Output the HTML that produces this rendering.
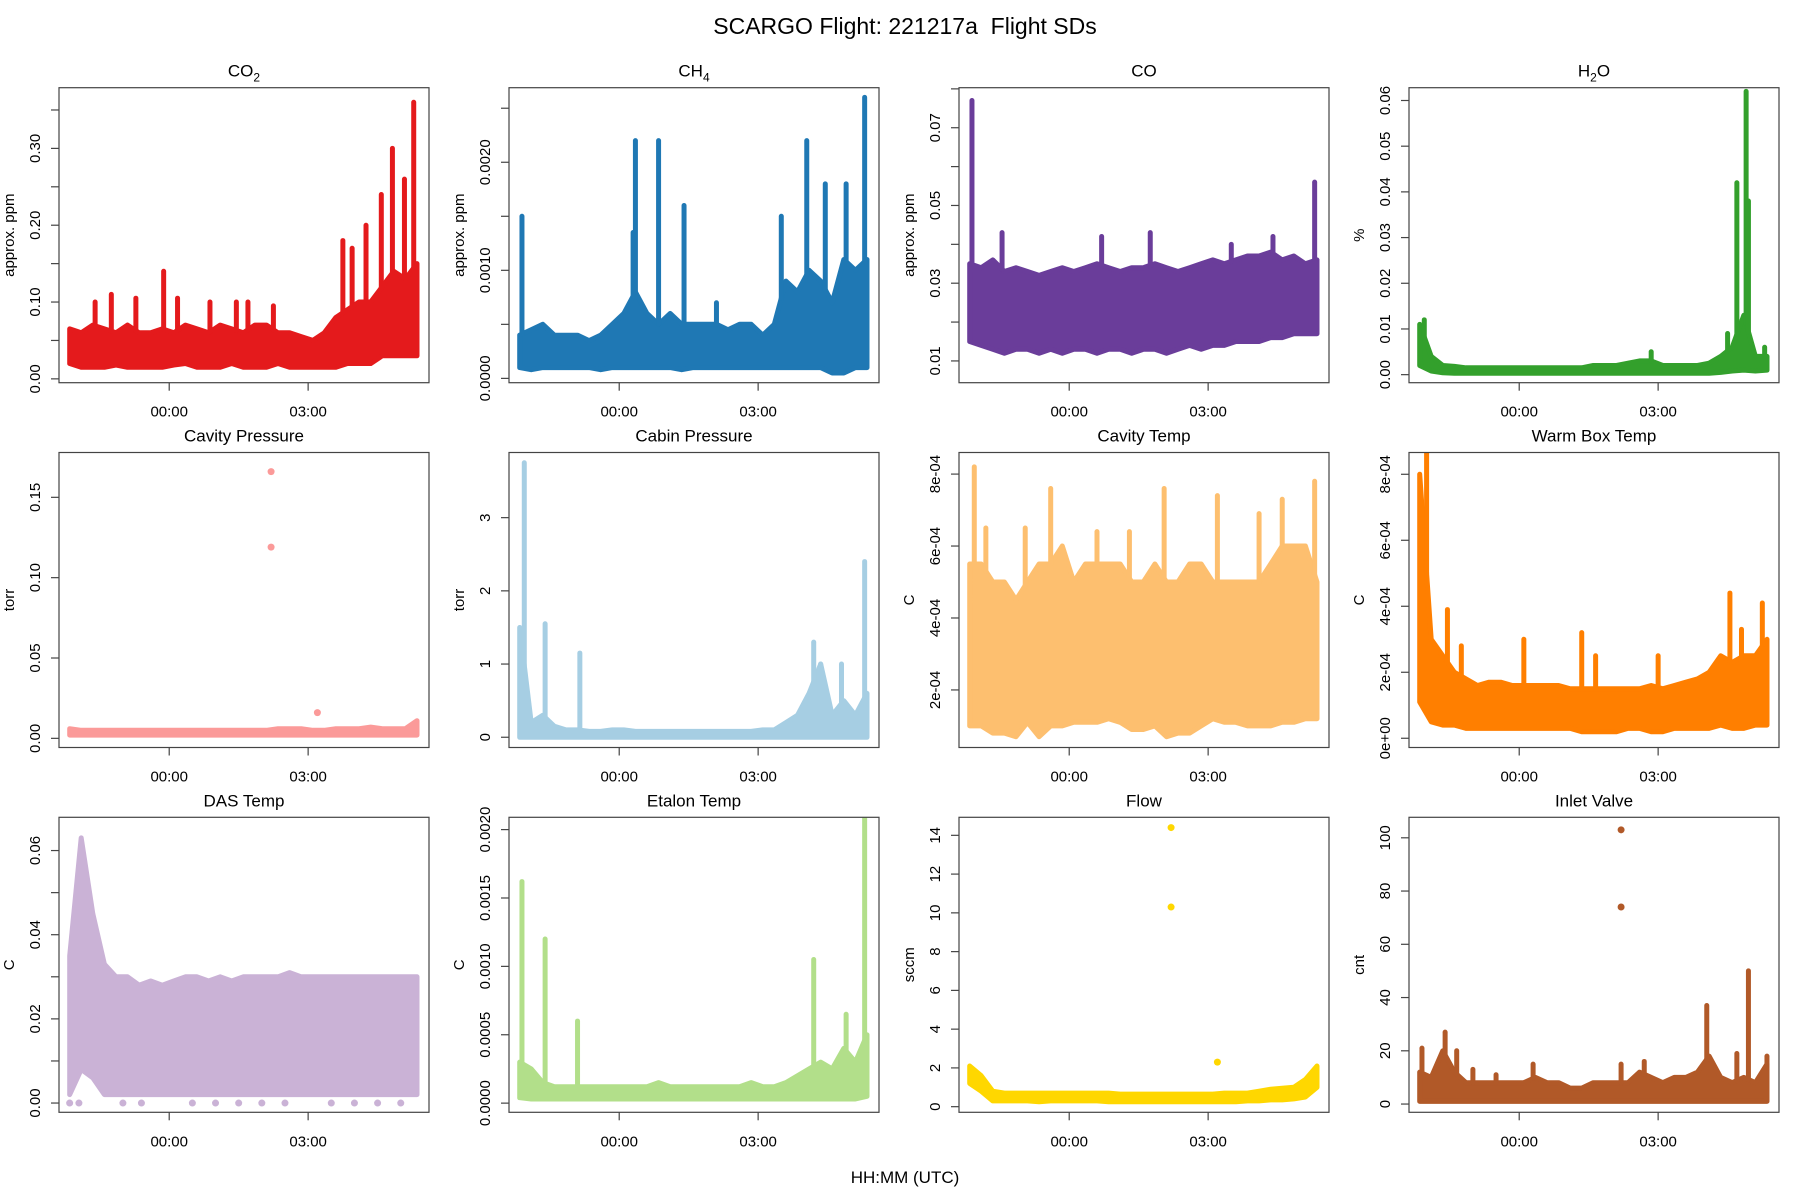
<!DOCTYPE html>
<html><head><meta charset="utf-8"><style>
html,body{margin:0;padding:0;background:#fff;}
svg{display:block;font-family:"Liberation Sans",sans-serif;}
</style></head><body>
<svg id="chart" width="1800" height="1200" viewBox="0 0 1800 1200" xmlns="http://www.w3.org/2000/svg">
<text x="905" y="34" text-anchor="middle" font-size="23">SCARGO Flight: 221217a&#160; Flight SDs</text>
<text x="905" y="1183" text-anchor="middle" font-size="17">HH:MM (UTC)</text>
</svg>
<script>
// shared time grid (hours from 00:00 UTC)
const timeGrid = [-2.15,-1.9,-1.65,-1.4,-1.15,-0.9,-0.65,-0.4,-0.15,0.1,0.35,0.6,0.85,1.1,1.35,1.6,1.85,2.1,2.35,2.6,2.85,3.1,3.35,3.6,3.85,4.1,4.35,4.6,4.85,5.1,5.35];
const xTickLabels = ["00:00","03:00"];
const xTickValues = [0,3];

// per-panel data arrays
const co2Hi = [.065,.06,.07,.065,.06,.07,.06,.06,.065,.06,.07,.065,.06,.07,.065,.06,.07,.07,.06,.06,.055,.05,.06,.08,.09,.10,.10,.12,.14,.13,.15];
const co2Lo = [.02,.015,.015,.015,.018,.015,.015,.015,.015,.018,.02,.015,.015,.015,.02,.015,.015,.015,.02,.015,.015,.015,.015,.015,.02,.02,.02,.03,.03,.03,.03];
const co2Spikes = [[-1.6,.1],[-1.25,.11],[-0.72,.105],[-0.12,.14],[0.18,.105],[0.88,.10],[1.45,.10],[1.7,.10],[2.25,.095],[3.75,.18],[3.95,.17],[4.25,.20],[4.58,.24],[4.82,.30],[5.08,.26],[5.28,.36]];
const ch4Hi = [.0004,.00045,.0005,.0004,.0004,.0004,.00035,.0004,.0005,.0006,.0008,.0006,.0005,.0006,.0005,.0005,.0005,.0005,.00045,.0005,.0005,.0004,.0005,.0009,.0008,.001,.0009,.0007,.0011,.001,.0011];
const ch4Lo = [.0001,.00008,.0001,.0001,.0001,.0001,.0001,.00008,.0001,.0001,.0001,.0001,.0001,.0001,.00008,.0001,.0001,.0001,.0001,.0001,.0001,.0001,.0001,.0001,.0001,.0001,.0001,.00005,.00005,.0001,.0001];
const ch4Spikes = [[-2.1,.0015],[0.3,.00135],[0.35,.0022],[0.85,.0022],[1.4,.0016],[2.1,.0007],[3.5,.0015],[4.05,.0022],[4.45,.0018],[4.9,.0018],[5.3,.0026]];
const coHi = [.035,.034,.036,.033,.034,.033,.032,.033,.034,.033,.034,.035,.034,.033,.034,.034,.035,.034,.033,.034,.035,.036,.035,.036,.037,.037,.038,.036,.037,.035,.036];
const coLo = [.015,.014,.013,.012,.013,.013,.012,.013,.012,.013,.013,.012,.013,.013,.012,.013,.013,.012,.013,.014,.013,.014,.014,.015,.015,.015,.016,.016,.017,.017,.017];
const coSpikes = [[-2.1,.077],[-1.45,.043],[0.7,.042],[1.75,.043],[3.5,.04],[4.4,.042],[5.3,.056]];
const h2oHi = [.011,.004,.002,.0018,.0015,.0015,.0015,.0015,.0015,.0015,.0015,.0015,.0015,.0015,.0015,.002,.002,.002,.0025,.003,.003,.002,.002,.002,.002,.0025,.004,.006,.013,.004,.004];
const h2oLo = [.002,.0008,.0004,.0003,.0003,.0003,.0003,.0003,.0003,.0003,.0003,.0003,.0003,.0003,.0003,.0003,.0003,.0003,.0003,.0003,.0003,.0003,.0003,.0003,.0003,.0003,.0005,.0008,.001,.0008,.001];
const h2oSpikes = [[-2.05,.012],[2.85,.005],[4.5,.009],[4.7,.042],[4.9,.062],[4.95,.038],[5.3,.006]];
const cavpHi = [.006,.005,.005,.005,.005,.005,.005,.005,.005,.005,.005,.005,.005,.005,.005,.005,.005,.005,.006,.006,.006,.005,.005,.006,.006,.006,.007,.006,.006,.006,.011];
const cavpLo = [.002,.002,.002,.002,.002,.002,.002,.002,.002,.002,.002,.002,.002,.002,.002,.002,.002,.002,.002,.002,.002,.002,.002,.002,.002,.002,.002,.002,.002,.002,.002];
const cavpOutliers = [[2.2,.166],[2.2,.119],[3.2,.016]];
const cabHi = [1.5,.2,.3,.15,.1,.1,.08,.08,.1,.1,.08,.08,.08,.08,.08,.08,.08,.08,.08,.08,.08,.1,.1,.2,.3,.6,1.0,.3,.5,.3,.6];
const cabLo = [0,0,0,0,0,0,0,0,0,0,0,0,0,0,0,0,0,0,0,0,0,0,0,0,0,0,0,0,0,0,0];
const cabSpikes = [[-2.05,3.75],[-1.6,1.55],[-0.85,1.15],[4.2,1.3],[4.35,.8],[4.8,1.0],[5.3,2.4]];
const cavtHi = [5.5e-4,5.5e-4,5e-4,5e-4,4.5e-4,5e-4,5.5e-4,5.5e-4,6e-4,5e-4,5.5e-4,5.5e-4,5.5e-4,5.5e-4,5e-4,5e-4,5.5e-4,5e-4,5e-4,5.5e-4,5.5e-4,5e-4,5e-4,5e-4,5e-4,5e-4,5.5e-4,6e-4,6e-4,6e-4,5e-4];
const cavtLo = [1e-4,1e-4,.8e-4,.8e-4,.7e-4,1.1e-4,.7e-4,1e-4,1e-4,1.1e-4,1.1e-4,1.1e-4,1.2e-4,1.1e-4,.9e-4,.9e-4,1e-4,.7e-4,.8e-4,.8e-4,1e-4,1.2e-4,1.1e-4,1.1e-4,1e-4,1e-4,1e-4,1.1e-4,1.1e-4,1.2e-4,1.2e-4];
const cavtSpikes = [[-2.05,8.2e-4],[-1.8,6.5e-4],[-0.95,6.5e-4],[-0.4,7.6e-4],[0.6,6.4e-4],[1.3,6.4e-4],[2.05,7.6e-4],[3.2,7.4e-4],[4.1,6.9e-4],[4.6,7.3e-4],[5.3,7.8e-4]];
const wbHi = [8e-4,3e-4,2.5e-4,2e-4,1.8e-4,1.6e-4,1.7e-4,1.7e-4,1.6e-4,1.6e-4,1.6e-4,1.6e-4,1.6e-4,1.5e-4,1.5e-4,1.5e-4,1.5e-4,1.5e-4,1.5e-4,1.5e-4,1.6e-4,1.5e-4,1.6e-4,1.7e-4,1.8e-4,2e-4,2.5e-4,2.3e-4,2.5e-4,2.5e-4,3e-4];
const wbLo = [1.1e-4,.5e-4,.4e-4,.4e-4,.3e-4,.3e-4,.3e-4,.3e-4,.3e-4,.3e-4,.3e-4,.3e-4,.3e-4,.3e-4,.2e-4,.2e-4,.2e-4,.2e-4,.3e-4,.3e-4,.2e-4,.2e-4,.3e-4,.3e-4,.3e-4,.3e-4,.4e-4,.3e-4,.3e-4,.4e-4,.4e-4];
const wbSpikes = [[-2.0,8.7e-4],[-1.55,3.9e-4],[-1.25,2.8e-4],[0.1,3e-4],[1.35,3.2e-4],[1.65,2.5e-4],[3.0,2.5e-4],[4.55,4.4e-4],[4.8,3.3e-4],[5.25,4.1e-4]];
const dasHi = [.035,.063,.045,.033,.03,.03,.028,.029,.028,.029,.03,.03,.029,.03,.029,.03,.03,.03,.03,.031,.03,.03,.03,.03,.03,.03,.03,.03,.03,.03,.03];
const dasLo = [.002,.008,.006,.002,.002,.002,.002,.002,.002,.002,.002,.002,.002,.002,.002,.002,.002,.002,.002,.002,.002,.002,.002,.002,.002,.002,.002,.002,.002,.002,.002];
const dasOutliers = [[-2.15,.0],[-1.95,.0],[-1.0,.0],[-0.6,.0],[0.5,.0],[1.0,.0],[1.5,.0],[2.0,.0],[2.5,.0],[3.5,.0],[4.0,.0],[4.5,.0],[5.0,.0]];
const etHi = [.0003,.00025,.00015,.00012,.00012,.00012,.00012,.00012,.00012,.00012,.00012,.00012,.00015,.00012,.00012,.00012,.00012,.00012,.00012,.00012,.00015,.00012,.00012,.00015,.0002,.00025,.0003,.00025,.0004,.0003,.0005];
const etLo = [.00004,.00003,.00003,.00003,.00003,.00003,.00003,.00003,.00003,.00003,.00003,.00003,.00003,.00003,.00003,.00003,.00003,.00003,.00003,.00003,.00003,.00003,.00003,.00003,.00003,.00003,.00003,.00003,.00003,.00003,.00005];
const etSpikes = [[-2.1,.00162],[-1.6,.0012],[-0.9,.0006],[4.2,.00105],[4.9,.00065],[5.3,.0021]];
const flowHi = [2.1,1.6,.8,.7,.7,.7,.7,.7,.7,.7,.7,.7,.7,.65,.65,.65,.65,.65,.65,.65,.65,.65,.7,.7,.7,.8,.9,.95,1.0,1.4,2.1];
const flowLo = [1.2,.8,.3,.3,.3,.3,.25,.3,.3,.3,.3,.3,.25,.25,.25,.25,.25,.25,.25,.25,.25,.25,.25,.25,.3,.3,.35,.35,.4,.5,1.0];
const flowOutliers = [[2.2,14.4],[2.2,10.3],[3.2,2.3]];
const inHi = [12,10,20,12,8,8,8,8,8,8,10,8,8,6,6,8,8,8,8,12,10,8,10,10,12,18,10,8,10,8,15];
const inLo = [1,1,1,1,1,1,1,1,1,1,1,1,1,1,1,1,1,1,1,1,1,1,1,1,1,1,1,1,1,1,1];
const inSpikes = [[-2.1,21],[-1.6,27],[-1.35,20],[-1.0,13],[-0.5,11],[0.3,15],[2.2,15],[2.7,16],[4.05,37],[4.7,19],[4.95,50],[5.35,18]];
const inOutliers = [[2.2,103],[2.2,74]];

const panels = [
 {name:"co2",title:["CO","2"],yl:"approx. ppm",col:"#E41A1C",hi:co2Hi,lo:co2Lo,sp:co2Spikes,out:[],ymin:-0.005,ymax:0.379,ticks:[0,.05,.1,.15,.2,.25,.3,.35],labels:[[0,"0.00"],[.1,"0.10"],[.2,"0.20"],[.3,"0.30"]]},
 {name:"ch4",title:["CH","4"],yl:"approx. ppm",col:"#1F78B4",hi:ch4Hi,lo:ch4Lo,sp:ch4Spikes,out:[],ymin:-0.00004,ymax:0.00269,ticks:[0,.0005,.001,.0015,.002,.0025],labels:[[0,"0.0000"],[.001,"0.0010"],[.002,"0.0020"]]},
 {name:"co",title:["CO",""],yl:"approx. ppm",col:"#6A3D9A",hi:coHi,lo:coLo,sp:coSpikes,out:[],ymin:0.0044,ymax:0.0803,ticks:[.01,.02,.03,.04,.05,.06,.07,.08],labels:[[.01,"0.01"],[.03,"0.03"],[.05,"0.05"],[.07,"0.07"]]},
 {name:"h2o",title:["H","2","O"],yl:"%",col:"#33A02C",hi:h2oHi,lo:h2oLo,sp:h2oSpikes,out:[],ymin:-0.00176,ymax:0.0628,ticks:[0,.01,.02,.03,.04,.05,.06],labels:[[0,"0.00"],[.01,"0.01"],[.02,"0.02"],[.03,"0.03"],[.04,"0.04"],[.05,"0.05"],[.06,"0.06"]]},
 {name:"cavity-pressure",title:["Cavity Pressure",""],yl:"torr",col:"#FB9A99",hi:cavpHi,lo:cavpLo,sp:[],out:cavpOutliers,ymin:-0.0057,ymax:0.1779,ticks:[0,.05,.1,.15],labels:[[0,"0.00"],[.05,"0.05"],[.1,"0.10"],[.15,"0.15"]]},
 {name:"cabin-pressure",title:["Cabin Pressure",""],yl:"torr",col:"#A6CEE3",hi:cabHi,lo:cabLo,sp:cabSpikes,out:[],ymin:-0.14,ymax:3.89,ticks:[0,1,2,3],labels:[[0,"0"],[1,"1"],[2,"2"],[3,"3"]]},
 {name:"cavity-temp",title:["Cavity Temp",""],yl:"C",col:"#FDBF6F",hi:cavtHi,lo:cavtLo,sp:cavtSpikes,out:[],ymin:0.4e-4,ymax:8.6e-4,ticks:[2e-4,4e-4,6e-4,8e-4],labels:[[2e-4,"2e-04"],[4e-4,"4e-04"],[6e-4,"6e-04"],[8e-4,"8e-04"]]},
 {name:"warm-box-temp",title:["Warm Box Temp",""],yl:"C",col:"#FF7F00",hi:wbHi,lo:wbLo,sp:wbSpikes,out:[],ymin:-0.28e-4,ymax:8.66e-4,ticks:[0,2e-4,4e-4,6e-4,8e-4],labels:[[0,"0e+00"],[2e-4,"2e-04"],[4e-4,"4e-04"],[6e-4,"6e-04"],[8e-4,"8e-04"]]},
 {name:"das-temp",title:["DAS Temp",""],yl:"C",col:"#CAB2D6",hi:dasHi,lo:dasLo,sp:[],out:dasOutliers,ymin:-0.0022,ymax:0.0679,ticks:[0,.01,.02,.03,.04,.05,.06],labels:[[0,"0.00"],[.02,"0.02"],[.04,"0.04"],[.06,"0.06"]]},
 {name:"etalon-temp",title:["Etalon Temp",""],yl:"C",col:"#B2DF8A",hi:etHi,lo:etLo,sp:etSpikes,out:[],ymin:-0.000067,ymax:0.00209,ticks:[0,.0005,.001,.0015,.002],labels:[[0,"0.0000"],[.0005,"0.0005"],[.001,"0.0010"],[.0015,"0.0015"],[.002,"0.0020"]]},
 {name:"flow",title:["Flow",""],yl:"sccm",col:"#FFD700",hi:flowHi,lo:flowLo,sp:[],out:flowOutliers,ymin:-0.29,ymax:14.93,ticks:[0,2,4,6,8,10,12,14],labels:[[0,"0"],[2,"2"],[4,"4"],[6,"6"],[8,"8"],[10,"10"],[12,"12"],[14,"14"]]},
 {name:"inlet-valve",title:["Inlet Valve",""],yl:"cnt",col:"#B15928",hi:inHi,lo:inLo,sp:inSpikes,out:inOutliers,ymin:-3.1,ymax:107.7,ticks:[0,20,40,60,80,100],labels:[[0,"0"],[20,"20"],[40,"40"],[60,"60"],[80,"80"],[100,"100"]]}
];

const NS="http://www.w3.org/2000/svg";
const svg=document.getElementById("chart");
function mk(tag,attrs,parent){const e=document.createElementNS(NS,tag);for(const k in attrs)e.setAttribute(k,attrs[k]);(parent||svg).appendChild(e);return e;}
const W=370,H=295,XMIN=-2.38,XMAX=5.61;
function interp(arr,t){for(let i=0;i<timeGrid.length-1;i++){if(t<=timeGrid[i+1]){const f=(t-timeGrid[i])/(timeGrid[i+1]-timeGrid[i]);return arr[i]+(arr[i+1]-arr[i])*Math.max(0,f);}}return arr[arr.length-1];}

panels.forEach((p,idx)=>{
  const col=idx%4,row=Math.floor(idx/4);
  const L=59+450*col,T=87.7+364.8*row;
  const sx=t=>L+(t-XMIN)/(XMAX-XMIN)*W;
  const sy=v=>T+H-(v-p.ymin)/(p.ymax-p.ymin)*H;
  const g=mk("g",{});
  
  
  const clip=mk("clipPath",{id:"c"+idx},g);mk("rect",{x:L,y:T,width:W,height:H},clip);
  const dg=mk("g",{"clip-path":"url(#c"+idx+")"},g);
  
  
  let pts=timeGrid.map((t,i)=>sx(t).toFixed(1)+","+sy(p.hi[i]).toFixed(1));
  pts=pts.concat(timeGrid.map((t,i)=>sx(t).toFixed(1)+","+sy(p.lo[i]).toFixed(1)).reverse());
  const band=mk("polygon",{points:pts.join(" "),fill:p.col,stroke:p.col,"stroke-width":5,"stroke-linejoin":"round"},dg);
  
  
  p.sp.forEach(s=>{
    const ln=mk("line",{x1:sx(s[0]),x2:sx(s[0]),y1:sy(interp(p.hi,s[0])),y2:sy(s[1]),stroke:p.col,"stroke-width":5,"stroke-linecap":"round"},dg);
    
    
  });
  p.out.forEach(s=>{
    const c=mk("circle",{cx:sx(s[0]),cy:sy(s[1]),r:3.5,fill:p.col},dg);
    
    
  });
  const fr=mk("rect",{x:L,y:T,width:W,height:H,fill:"none",stroke:"#444","stroke-width":1.2},g);
  
  
  const tt=mk("text",{x:L+W/2,y:T-11,"text-anchor":"middle","font-size":17},g);
  
  
  tt.appendChild(document.createTextNode(p.title[0]));
  if(p.title[1]){const s=mk("tspan",{"font-size":12,dy:5},tt);s.textContent=p.title[1];}
  if(p.title[2]){const s=mk("tspan",{dy:-5},tt);s.textContent=p.title[2];}
  xTickValues.forEach((v,i)=>{
    mk("line",{x1:sx(v),x2:sx(v),y1:T+H,y2:T+H+8,stroke:"#444","stroke-width":1.2},g);
    const lb=mk("text",{x:sx(v),y:T+H+34,"text-anchor":"middle","font-size":15},g);
    
    
    lb.textContent=xTickLabels[i];
  });
  p.ticks.forEach(v=>{mk("line",{x1:L-8,x2:L,y1:sy(v),y2:sy(v),stroke:"#444","stroke-width":1.2},g);});
  p.labels.forEach(l=>{
    const lb=mk("text",{x:L-19,y:sy(l[0]),"text-anchor":"middle","font-size":15,transform:"rotate(-90 "+(L-19)+" "+sy(l[0])+")"},g);
    
    
    lb.textContent=l[1];
  });
  const yl=mk("text",{x:L-45,y:T+H/2,"text-anchor":"middle","font-size":15,transform:"rotate(-90 "+(L-45)+" "+(T+H/2)+")"},g);
  
  
  yl.textContent=p.yl;
});
</script>
</body></html>
